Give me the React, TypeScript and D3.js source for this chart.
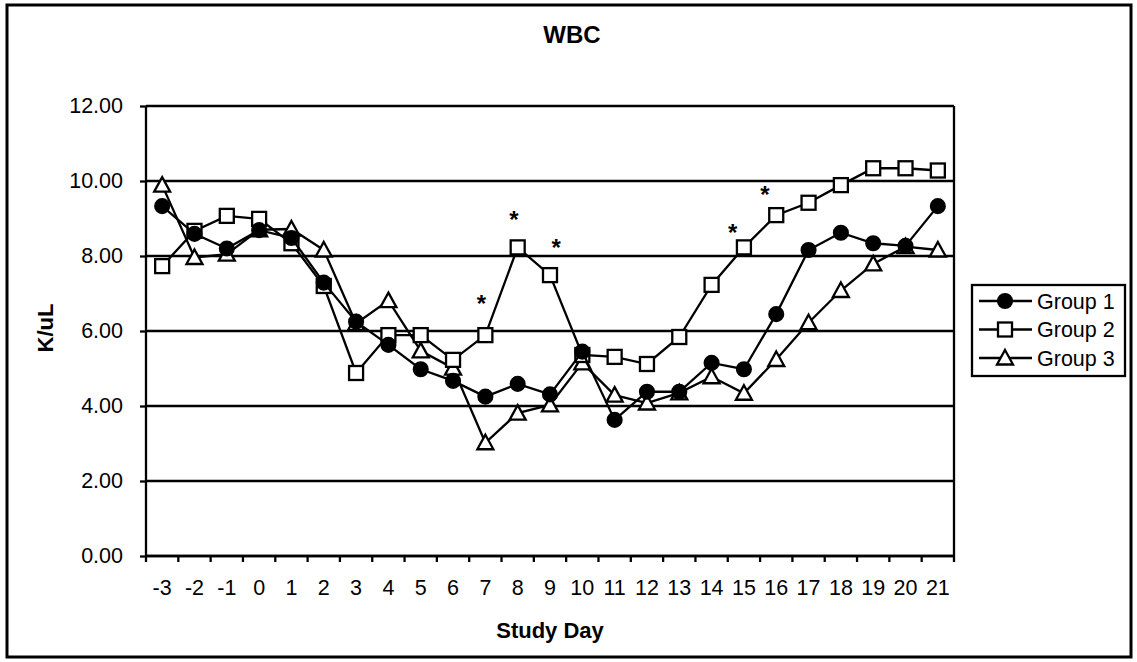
import React, { useRef, useEffect } from "react";
import * as d3 from "d3";

// Study days (category axis)
const days = [
  -3, -2, -1, 0, 1, 2, 3, 4, 5, 6, 7, 8, 9, 10, 11, 12, 13, 14, 15, 16, 17, 18,
  19, 20, 21,
];

const group1 = [
  9.33, 8.59, 8.2, 8.69, 8.48, 7.29, 6.25, 5.63, 4.98, 4.67, 4.25, 4.59, 4.31,
  5.45, 3.63, 4.38, 4.38, 5.15, 4.98, 6.45, 8.16, 8.62, 8.34, 8.27, 9.33,
];
const group2 = [
  7.73, 8.67, 9.07, 8.99, 8.34, 7.2, 4.88, 5.89, 5.89, 5.23, 5.89, 8.23, 7.49,
  5.36, 5.31, 5.12, 5.84, 7.23, 8.23, 9.09, 9.42, 9.89, 10.34, 10.34, 10.28,
];
const group3 = [
  9.89, 7.96, 8.05, 8.7, 8.72, 8.16, 6.2, 6.81, 5.47, 5.01, 3.02, 3.81, 4.03,
  5.15, 4.29, 4.08, 4.35, 4.78, 4.34, 5.24, 6.22, 7.08, 7.79, 8.25, 8.16,
];

// significance markers (day position, value at glyph centre)
const starDays = [6.88, 7.88, 9.19, 14.65, 15.65];
const starValues = [6.87, 9.11, 8.38, 8.78, 9.78];

const yTicks = [0, 2, 4, 6, 8, 10, 12];

const seriesNames = ["Group 1", "Group 2", "Group 3"];
const seriesValues = [group1, group2, group3];
const seriesSymbols = ["circle", "square", "triangle"];

const FONT = "'Liberation Sans', Arial, sans-serif";
const STROKE = 2.3;

function drawMarker(g, type, x, y) {
  if (type === "circle") {
    g.append("circle")
      .attr("cx", x)
      .attr("cy", y)
      .attr("r", 7.3)
      .attr("fill", "#000")
      .attr("stroke", "#000")
      .attr("stroke-width", 1.5);
  } else if (type === "square") {
    g.append("rect")
      .attr("x", x - 7)
      .attr("y", y - 7)
      .attr("width", 14)
      .attr("height", 14)
      .attr("fill", "#fff")
      .attr("stroke", "#000")
      .attr("stroke-width", STROKE);
  } else {
    g.append("path")
      .attr("d", `M${x},${y - 8}L${x + 8},${y + 6.5}L${x - 8},${y + 6.5}Z`)
      .attr("fill", "#fff")
      .attr("stroke", "#000")
      .attr("stroke-width", STROKE)
      .attr("stroke-linejoin", "miter");
  }
}

function WbcChart() {
  const gRef = useRef(null);
  const width = 1137;
  const height = 662;
  const plot = { left: 146, right: 954, top: 106, bottom: 556 };

  useEffect(() => {
    const svg = d3.select(gRef.current);
    svg.selectAll("*").remove();

    const x = d3
      .scaleBand()
      .domain(days.map(String))
      .range([plot.left, plot.right]);
    const xc = (i) => x(String(days[i])) + x.bandwidth() / 2;
    // continuous day -> pixel, used for the hand-placed asterisks
    const xDay = d3
      .scaleLinear()
      .domain([days[0], days[days.length - 1]])
      .range([xc(0), xc(days.length - 1)]);
    const y = d3.scaleLinear().domain([0, 12]).range([plot.bottom, plot.top]);

    // gridlines
    svg
      .append("g")
      .selectAll("line")
      .data(yTicks)
      .enter()
      .append("line")
      .attr("x1", plot.left)
      .attr("x2", plot.right)
      .attr("y1", (d) => y(d))
      .attr("y2", (d) => y(d))
      .attr("stroke", "#000")
      .attr("stroke-width", STROKE);

    // plot area right border
    svg
      .append("line")
      .attr("x1", plot.right)
      .attr("x2", plot.right)
      .attr("y1", plot.top)
      .attr("y2", plot.bottom)
      .attr("stroke", "#000")
      .attr("stroke-width", STROKE);

    // y axis
    const yAxis = svg
      .append("g")
      .attr("transform", `translate(${plot.left},0)`)
      .call(
        d3
          .axisLeft(y)
          .tickValues(yTicks)
          .tickSize(6)
          .tickPadding(17)
          .tickFormat(d3.format(".2f"))
      );
    yAxis.select(".domain").attr("stroke-width", STROKE).attr("d", `M0,${plot.top}V${plot.bottom}`);
    yAxis.selectAll(".tick line").attr("stroke-width", STROKE);
    yAxis
      .selectAll(".tick text")
      .attr("font-family", FONT)
      .attr("font-size", 21.5)
      .attr("fill", "#000");

    // x axis (ticks between categories)
    const xAxis = svg
      .append("g")
      .attr("transform", `translate(0,${plot.bottom})`)
      .call(d3.axisBottom(x).tickSize(0).tickPadding(24));
    xAxis.select(".domain").attr("stroke-width", STROKE).attr("d", `M${plot.left},0H${plot.right}`);
    xAxis
      .selectAll(".tick text")
      .attr("font-family", FONT)
      .attr("font-size", 21.5)
      .attr("fill", "#000");
    svg
      .append("g")
      .selectAll("line")
      .data(d3.range(days.length + 1))
      .enter()
      .append("line")
      .attr("x1", (i) => plot.left + i * x.bandwidth())
      .attr("x2", (i) => plot.left + i * x.bandwidth())
      .attr("y1", plot.bottom)
      .attr("y2", plot.bottom + 6)
      .attr("stroke", "#000")
      .attr("stroke-width", STROKE);

    // series, drawn group 3 first so group 1 sits on top
    const line = d3
      .line()
      .x((d, i) => xc(i))
      .y((d) => y(d));
    [2, 1, 0].forEach((s) => {
      const g = svg.append("g");
      g.append("path")
        .datum(seriesValues[s])
        .attr("d", line)
        .attr("fill", "none")
        .attr("stroke", "#000")
        .attr("stroke-width", STROKE);
      seriesValues[s].forEach((v, i) => drawMarker(g, seriesSymbols[s], xc(i), y(v)));
    });

    // asterisks
    svg
      .append("g")
      .selectAll("text")
      .data(starDays)
      .enter()
      .append("text")
      .attr("x", (d) => xDay(d))
      .attr("y", (d, i) => y(starValues[i]) + 14)
      .attr("text-anchor", "middle")
      .attr("font-family", FONT)
      .attr("font-size", 24)
      .attr("font-weight", "bold")
      .text("*");

    // title
    svg
      .append("text")
      .attr("x", 572)
      .attr("y", 43)
      .attr("text-anchor", "middle")
      .attr("font-family", FONT)
      .attr("font-size", 24)
      .attr("font-weight", "bold")
      .text("WBC");

    // axis titles
    svg
      .append("text")
      .attr("x", (plot.left + plot.right) / 2)
      .attr("y", 638)
      .attr("text-anchor", "middle")
      .attr("font-family", FONT)
      .attr("font-size", 22)
      .attr("font-weight", "bold")
      .text("Study Day");
    svg
      .append("text")
      .attr("transform", "rotate(-90)")
      .attr("x", -328)
      .attr("y", 53)
      .attr("text-anchor", "middle")
      .attr("font-family", FONT)
      .attr("font-size", 22)
      .attr("font-weight", "bold")
      .text("K/uL");

    // legend
    const legend = svg.append("g").attr("transform", "translate(972,285)");
    legend
      .append("rect")
      .attr("width", 153)
      .attr("height", 91)
      .attr("fill", "#fff")
      .attr("stroke", "#000")
      .attr("stroke-width", STROKE);
    seriesNames.forEach((name, s) => {
      const ly = 16 + s * 28.5;
      legend
        .append("line")
        .attr("x1", 7)
        .attr("x2", 60)
        .attr("y1", ly)
        .attr("y2", ly)
        .attr("stroke", "#000")
        .attr("stroke-width", STROKE);
      drawMarker(legend, seriesSymbols[s], 33, ly);
      legend
        .append("text")
        .attr("x", 65)
        .attr("y", ly + 7.5)
        .attr("font-family", FONT)
        .attr("font-size", 21.5)
        .text(name);
    });
  }, []);

  return (
    <svg width={width} height={height} style={{ display: "block", background: "#fff" }}>
      <g ref={gRef} />
      {/* outer chart border */}
      <rect x={7} y={5} width={1124} height={652} fill="none" stroke="#000" strokeWidth={3} />
    </svg>
  );
}

export default function App() {
  return (
    <div style={{ position: "absolute", left: 0, top: 0 }}>
      <WbcChart />
    </div>
  );
}
